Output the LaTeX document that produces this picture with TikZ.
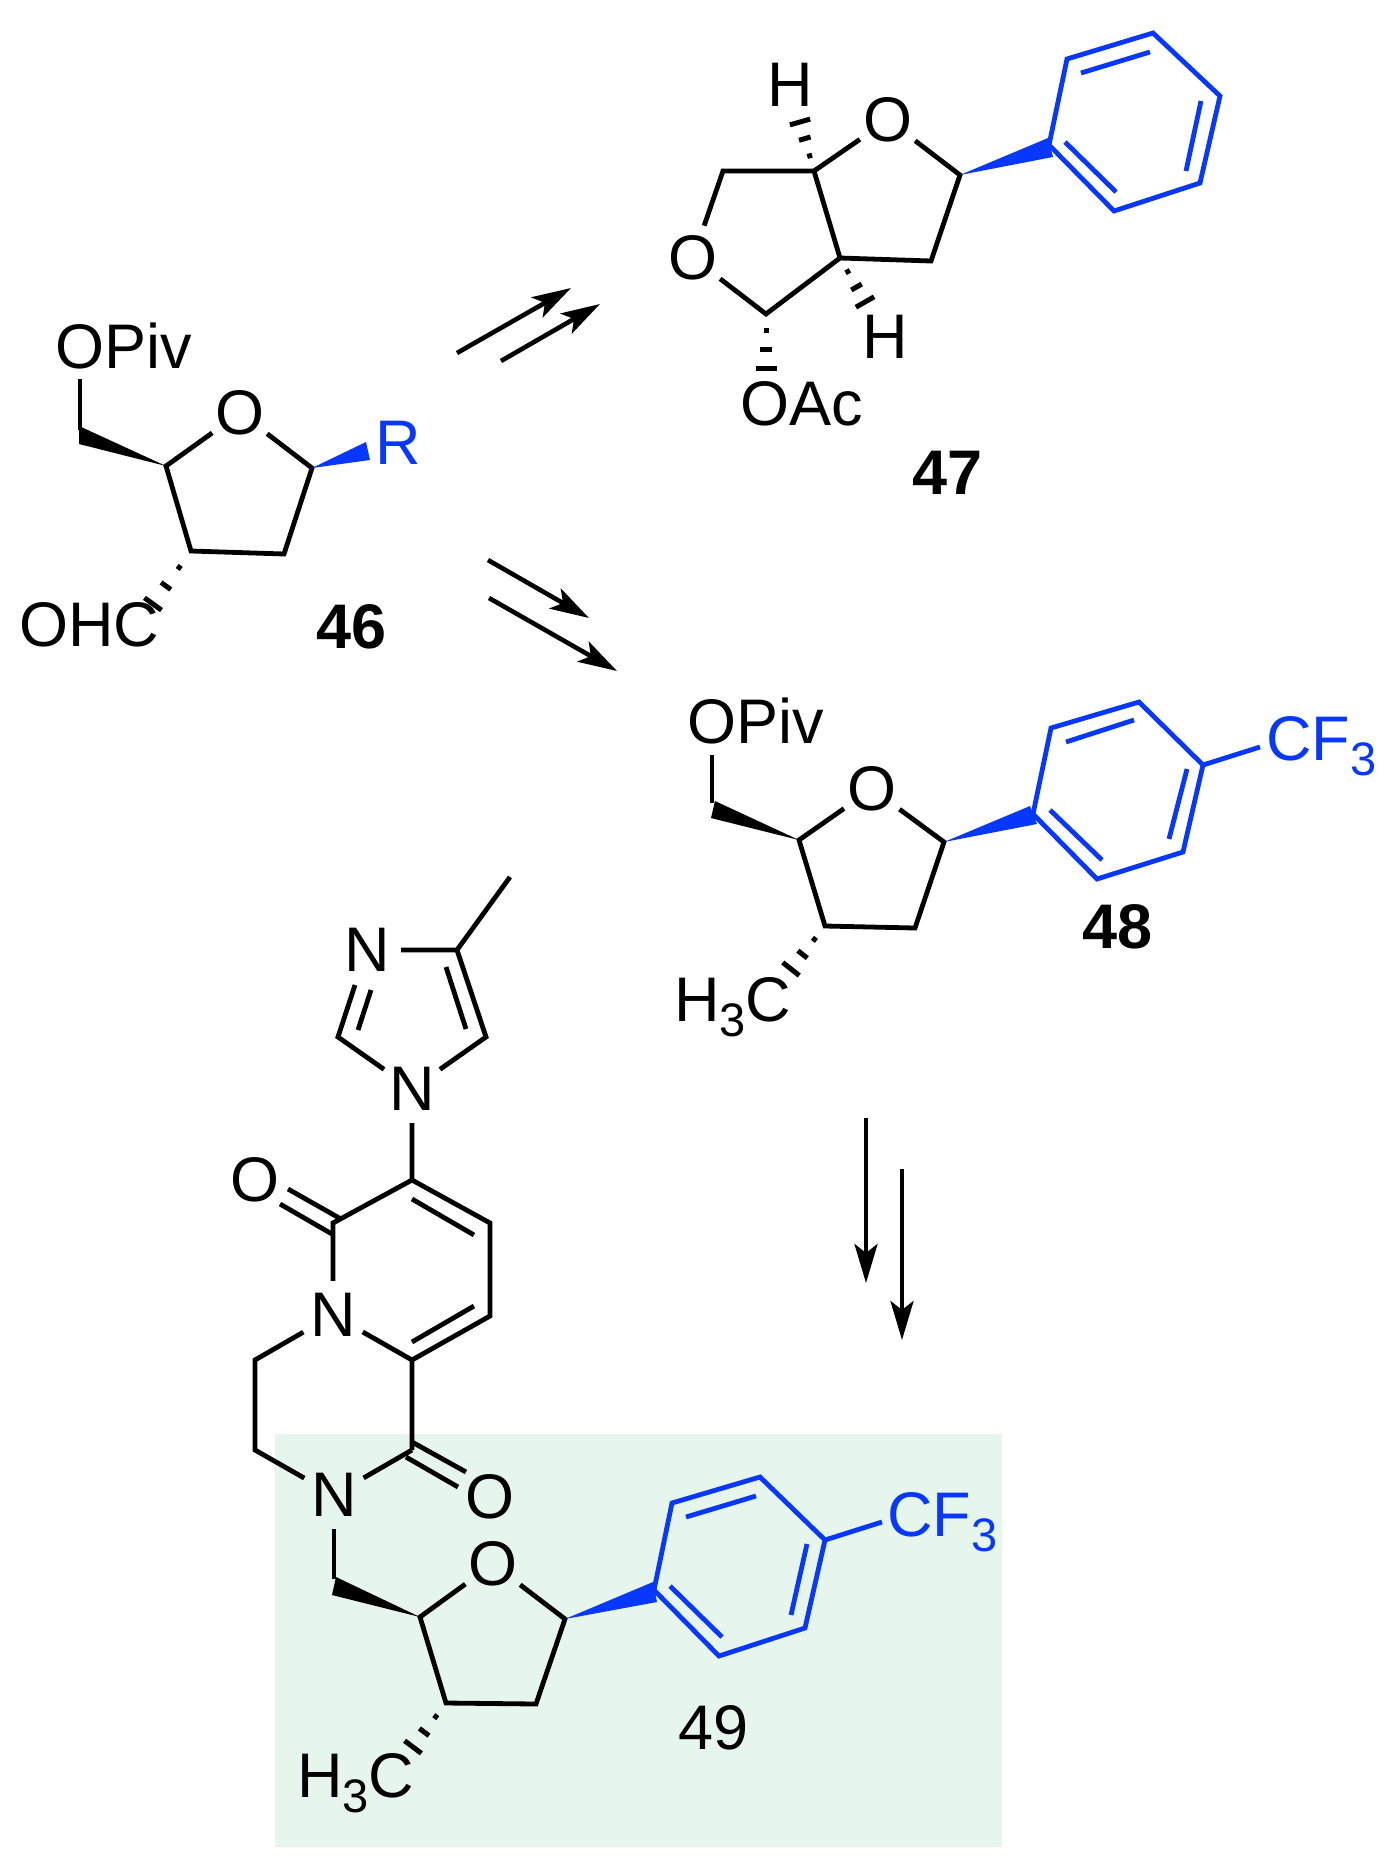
\documentclass[tikz,border=0pt]{standalone}
\usepackage{fontspec}
\setmainfont{Liberation Sans}
\usetikzlibrary{arrows.meta,calc}
\definecolor{ringblue}{RGB}{8,56,255}
\definecolor{boxgreen}{RGB}{230,246,237}
\newcommand{\LabelFont}{\fontsize{63}{63}\selectfont}
\newcommand{\Sub}[1]{\raisebox{-15pt}{\fontsize{47}{47}\selectfont #1}}
\newcommand{\WedgeBond}[4][black]{\fill[#1] (#2) -- (#3) -- (#4) -- cycle;}
\newcommand{\HashBond}[2]{%
  \foreach \T/\W in {.31/2.5,.66/6,1/10.5}{
    \draw[hashline] ($(#1)!\T!(#2)!\W pt!90:(#1)$) -- ($(#1)!\T!(#2)!\W pt!-90:(#1)$);
  }}
\tikzset{
  bond/.style={line width=4.8pt},
  bluebond/.style={line width=4.8pt, ringblue},
  hashline/.style={line width=5pt},
  atom/.style={circle, inner sep=0pt, minimum size=68pt, font=\LabelFont},
  group/.style={inner sep=0pt, anchor=base west, font=\LabelFont},
  number/.style={inner sep=0pt, anchor=base west, font=\LabelFont\bfseries},
  rxn/.style={line width=4.6pt, -{Stealth[length=39pt,width=23pt,inset=9pt]}}
}
\begin{document}
\begin{tikzpicture}[x=1pt, y=-1pt]
  \useasboundingbox (0,0) rectangle (1393,1873);
  \fill[boxgreen] (275,1434) rectangle (1002,1847);

  \foreach \Name/\X/\Y in {aPiv/80/379, aCH/80/430, aWa/79/426, aWb/79/444, aC2/166/466, aC5/312/468,
      aC4/284/554, aC3/191/551, aHash/153/604, aRa/366/442, aRb/370/460}{
    \coordinate (\Name) at (\X,\Y);
  }
  \node[group] (aOPiv) at (55,368) {OPiv};
  \node[group] (aOHC) at (19,646) {OHC};
  \node[group, text=ringblue] (aR) at (375,464) {R};
  \node[atom] (aO) at (240,413) {O};
  \node[number] (n46) at (316,648) {46};
  \draw[bond] (aPiv) -- (aCH);
  \WedgeBond{aC2}{aWa}{aWb}
  \draw[bond] (aO) -- (aC2) -- (aC3) -- (aC4) -- (aC5) -- (aO);
  \WedgeBond[ringblue]{aC5}{aRa}{aRb}
  \HashBond{aC3}{aHash}

  \foreach \Name/\X/\Y in {fa/457/353, fb/571/288, fc/501/361, fd/600/304,
      ga/488/560, gb/589/618, gc/489/598, gd/617/671,
      ha/866/1118, hb/866/1283, hc/902/1169, hd/902/1340}{
    \coordinate (\Name) at (\X,\Y);
  }
  \draw[rxn] (fa) -- (fb);
  \draw[rxn] (fc) -- (fd);
  \draw[rxn] (ga) -- (gb);
  \draw[rxn] (gc) -- (gd);
  \draw[rxn] (ha) -- (hb);
  \draw[rxn] (hc) -- (hd);

  \foreach \Name/\X/\Y in {bC1/814/171, bC2/960/175, bC3/931/261, bC4/840/258, bC5/723/171, bC6/766/314,
      bHa/800/122, bHb/865/302, bHc/766/368, bWa/1048/138, bWb/1053/157,
      bP1/1049/145, bP2/1067/59, bP3/1153/33, bP4/1220/96, bP5/1200/183, bP6/1114/211,
      bIa/1081/73, bIb/1150/52, bIc/1201/101, bId/1186/171, bIe/1116/192, bIf/1065/142}{
    \coordinate (\Name) at (\X,\Y);
  }
  \node[group] (bHtop) at (767,107) {H};
  \node[group] (bHlow) at (862,358) {H};
  \node[group] (bOAc) at (740,425) {OAc};
  \node[atom] (bOa) at (888,120) {O};
  \node[atom] (bOb) at (693,258) {O};
  \node[number] (n47) at (912,494) {47};
  \draw[bond] (bOa) -- (bC1) -- (bC4) -- (bC3) -- (bC2) -- (bOa);
  \draw[bond] (bC1) -- (bC5) -- (bOb) -- (bC6) -- (bC4);
  \HashBond{bC1}{bHa}
  \HashBond{bC4}{bHb}
  \HashBond{bC6}{bHc}
  \WedgeBond[ringblue]{bC2}{bWa}{bWb}
  \draw[bluebond] (bP1) -- (bP2) -- (bP3) -- (bP4) -- (bP5) -- (bP6) -- cycle;
  \draw[bluebond] (bIa) -- (bIb);
  \draw[bluebond] (bIc) -- (bId);
  \draw[bluebond] (bIe) -- (bIf);

  \foreach \Name/\X/\Y in {cPiv/712/755, cCH/712/803, cWa/715/801, cWb/711/818, cC2/799/840, cC5/944/842,
      cC4/915/928, cC3/825/926, cHash/791/969, cRa/1030/806, cRb/1037/824,
      cP1/1033/814, cP2/1051/728, cP3/1139/702, cP4/1203/765, cP5/1183/852, cP6/1097/879,
      cIa/1066/742, cIb/1134/720, cIc/1187/769, cId/1169/839, cIe/1102/860, cIf/1050/810, cF/1260/747}{
    \coordinate (\Name) at (\X,\Y);
  }
  \node[group] (cOPiv) at (687,743) {OPiv};
  \node[group] (cMe) at (674,1021) {H\Sub{3}C};
  \node[group, text=ringblue] (cCF) at (1266,760) {CF\Sub{3}};
  \node[atom] (cO) at (872,789) {O};
  \node[number] (n48) at (1082,948) {48};
  \draw[bond] (cPiv) -- (cCH);
  \WedgeBond{cC2}{cWa}{cWb}
  \draw[bond] (cO) -- (cC2) -- (cC3) -- (cC4) -- (cC5) -- (cO);
  \WedgeBond[ringblue]{cC5}{cRa}{cRb}
  \HashBond{cC3}{cHash}
  \draw[bluebond] (cP1) -- (cP2) -- (cP3) -- (cP4) -- (cP5) -- (cP6) -- cycle;
  \draw[bluebond] (cIa) -- (cIb);
  \draw[bluebond] (cIc) -- (cId);
  \draw[bluebond] (cIe) -- (cIf);
  \draw[bluebond] (cP4) -- (cF);

  \foreach \Name/\X/\Y in {dMe/510/877, dC4/457/950, dC5/486/1037, dC2/338/1037,
      dIa/446/967, dIb/466/1029, dIc/355/985, dId/371/990, dIe/358/1030,
      eC1/412/1180, eC2/490/1223, eC3/490/1316, eC4/412/1360, eCO/333/1223,
      eIa/412/1199, eIb/474/1235, eIc/474/1306, eId/412/1342,
      eOa/341/1219, eOb/288/1189, eOc/332/1234, eOd/280/1204,
      eCa/255/1360, eCb/255/1450, eCc/412/1450,
      eOe/412/1442, eOf/466/1472, eOg/406/1457, eOh/458/1487}{
    \coordinate (\Name) at (\X,\Y);
  }
  \node[atom] (dNa) at (367,950) {N};
  \node[atom] (dNb) at (412,1089) {N};
  \node[atom] (eNa) at (333,1315) {N};
  \node[atom] (eNb) at (334,1495) {N};
  \node[atom] (eOx) at (255,1180) {O};
  \node[atom] (eOy) at (490,1497) {O};
  \draw[bond] (dMe) -- (dC4);
  \draw[bond] (dNa) -- (dC4) -- (dC5) -- (dNb) -- (dC2) -- (dIc);
  \draw[bond] (dIa) -- (dIb);
  \draw[bond] (dId) -- (dIe);
  \draw[bond] (dNb) -- (eC1) -- (eC2) -- (eC3) -- (eC4) -- (eCc);
  \draw[bond] (eIa) -- (eIb);
  \draw[bond] (eIc) -- (eId);
  \draw[bond] (eNa) -- (eCO) -- (eC1);
  \draw[bond] (eC4) -- (eNa) -- (eCa) -- (eCb) -- (eNb) -- (eCc);
  \draw[bond] (eOa) -- (eOb);
  \draw[bond] (eOc) -- (eOd);
  \draw[bond] (eOe) -- (eOf);
  \draw[bond] (eOg) -- (eOh);

  \foreach \Name/\X/\Y in {kCH/334/1579, kWa/336/1577, kWb/332/1595, kC2/420/1617, kC5/565/1619,
      kC4/536/1704, kC3/446/1703, kHash/413/1747, kRa/653/1582, kRb/657/1602,
      kP1/654/1590, kP2/672/1503, kP3/760/1477, kP4/825/1540, kP5/805/1628, kP6/719/1656,
      kIa/686/1517, kIb/756/1496, kIc/807/1544, kId/791/1615, kIe/722/1637, kIf/670/1586, kF/882/1522}{
    \coordinate (\Name) at (\X,\Y);
  }
  \node[atom] (kO) at (493,1564) {O};
  \node[group] (kMe) at (297,1797) {H\Sub{3}C};
  \node[group, text=ringblue] (kCF) at (887,1536) {CF\Sub{3}};
  \node[group] (n49) at (678,1749) {49};
  \draw[bond] (eNb) -- (kCH);
  \WedgeBond{kC2}{kWa}{kWb}
  \draw[bond] (kO) -- (kC2) -- (kC3) -- (kC4) -- (kC5) -- (kO);
  \WedgeBond[ringblue]{kC5}{kRa}{kRb}
  \HashBond{kC3}{kHash}
  \draw[bluebond] (kP1) -- (kP2) -- (kP3) -- (kP4) -- (kP5) -- (kP6) -- cycle;
  \draw[bluebond] (kIa) -- (kIb);
  \draw[bluebond] (kIc) -- (kId);
  \draw[bluebond] (kIe) -- (kIf);
  \draw[bluebond] (kP4) -- (kF);
\end{tikzpicture}
\end{document}
